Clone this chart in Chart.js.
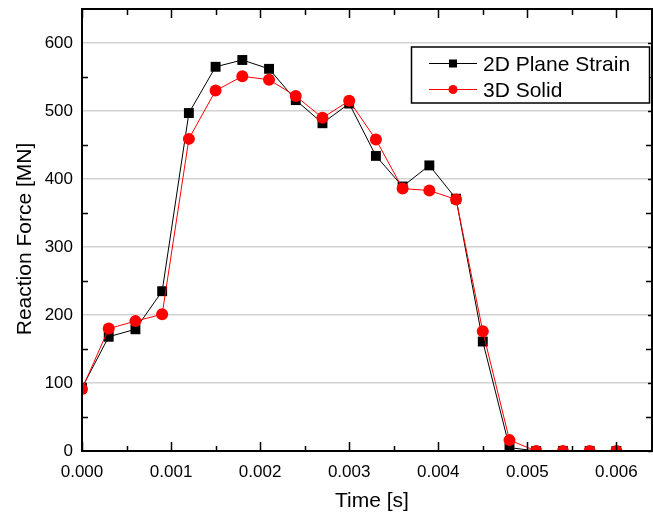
<!DOCTYPE html>
<html>
<head>
<meta charset="utf-8">
<script src="https://cdn.jsdelivr.net/npm/chart.js@4/dist/chart.umd.min.js"></script>
<style>
  html, body { margin: 0; padding: 0; background: #fff; }
  #c { display: block; }
</style>
</head>
<body>
<canvas id="c" width="653" height="515"></canvas>
<script>
// Reaction force history: 2D plane strain vs 3D solid model
const times = [0.0000, 0.0003, 0.0006, 0.0009, 0.0012, 0.0015, 0.0018, 0.0021, 0.0024, 0.0027,
               0.0030, 0.0033, 0.0036, 0.0039, 0.0042, 0.0045, 0.0048, 0.0051, 0.0054, 0.0057, 0.0060];
const plane2D = [93, 168, 179, 235, 497, 565, 575, 562, 516, 482,
                 511, 434, 389, 420, 371, 161, 5, 0, 0, 0, 0];
const solid3D = [91, 180, 191, 201, 459, 530, 551, 546, 522, 490,
                 515, 458, 386, 383, 370, 176, 16, 0, 0, 0, 0];

const seriesNames = ['2D Plane Strain', '3D Solid'];
const xTickValues = [0, 0.001, 0.002, 0.003, 0.004, 0.005, 0.006];
const yTickValues = [0, 100, 200, 300, 400, 500, 600];
const xTitle = 'Time [s]';
const yTitle = 'Reaction Force [MN]';

const FONT = 'Arial, "Liberation Sans", sans-serif';

function toPoints(xs, ys) {
  return xs.map((t, i) => ({ x: t, y: ys[i] }));
}

function noScalePadding(s) {
  s.paddingTop = 0;
  s.paddingBottom = 0;
  s.paddingLeft = 0;
  s.paddingRight = 0;
}

// Boxed frame with inward major/minor ticks on all four sides, plus axis titles
const framePlugin = {
  id: 'frame',
  afterDatasetsDraw(chart) {
    const { ctx, chartArea: a, scales: { x, y } } = chart;
    ctx.save();
    ctx.strokeStyle = '#000';
    ctx.lineWidth = 1.5;

    const xStep = xTickValues[1] - xTickValues[0];
    const yStep = yTickValues[1] - yTickValues[0];
    const xMinor = xTickValues.map(v => v + xStep / 2);
    const yMinor = yTickValues.map(v => v + yStep / 2);

    ctx.beginPath();
    xTickValues.forEach(v => {
      const px = Math.round(x.getPixelForValue(v)) + 0.5;
      ctx.moveTo(px, a.bottom); ctx.lineTo(px, a.bottom - 9);
      ctx.moveTo(px, a.top); ctx.lineTo(px, a.top + 9);
    });
    xMinor.forEach(v => {
      if (v > x.max) return;
      const px = Math.round(x.getPixelForValue(v)) + 0.5;
      ctx.moveTo(px, a.bottom); ctx.lineTo(px, a.bottom - 5);
      ctx.moveTo(px, a.top); ctx.lineTo(px, a.top + 6);
    });
    yMinor.forEach(v => {
      if (v >= y.max) return;
      const py = Math.round(y.getPixelForValue(v)) + 0.5;
      ctx.moveTo(a.left, py); ctx.lineTo(a.left + 6, py);
      ctx.moveTo(a.right, py); ctx.lineTo(a.right - 6, py);
    });
    yTickValues.forEach(v => {
      const py = Math.round(y.getPixelForValue(v)) + 0.5;
      ctx.moveTo(a.right, py); ctx.lineTo(a.right - 4, py);
    });
    ctx.stroke();

    ctx.lineWidth = 2;
    ctx.strokeRect(a.left, a.top, a.right - a.left, a.bottom - a.top);

    // axis titles
    ctx.fillStyle = '#000';
    ctx.font = '21px ' + FONT;
    ctx.textAlign = 'center';
    ctx.textBaseline = 'alphabetic';
    ctx.fillText(xTitle, (a.left + a.right) / 2 + 5, 507);

    ctx.save();
    ctx.translate(31, (a.top + a.bottom) / 2 + 9);
    ctx.rotate(-Math.PI / 2);
    ctx.fillText(yTitle, 0, 0);
    ctx.restore();

    ctx.restore();
  },
  afterDraw(chart) {
    // legend box in the upper right of the plot
    const { ctx } = chart;
    const bx = 411.5, by = 47, bw = 238, bh = 56;
    ctx.save();
    ctx.fillStyle = '#fff';
    ctx.fillRect(bx, by, bw, bh);
    ctx.strokeStyle = '#000';
    ctx.lineWidth = 1.5;
    ctx.strokeRect(bx, by, bw, bh);

    const rows = [63.5, 89.5];
    chart.data.datasets.forEach((ds, i) => {
      const cy = rows[i];
      ctx.strokeStyle = ds.borderColor;
      ctx.lineWidth = 1;
      ctx.beginPath();
      ctx.moveTo(429, cy); ctx.lineTo(477, cy);
      ctx.stroke();
      ctx.fillStyle = ds.pointBackgroundColor;
      if (ds.pointStyle === 'rect') {
        ctx.fillRect(449, cy - 4, 8, 8);
      } else {
        ctx.beginPath();
        ctx.arc(453, cy, 4.5, 0, Math.PI * 2);
        ctx.fill();
      }
      ctx.fillStyle = '#000';
      ctx.font = '21px ' + FONT;
      ctx.textAlign = 'left';
      ctx.textBaseline = 'alphabetic';
      ctx.fillText(ds.label, 483, cy + 7.3);
    });
    ctx.restore();
  }
};

new Chart(document.getElementById('c'), {
  type: 'line',
  data: {
    datasets: [
      {
        label: seriesNames[0],
        data: toPoints(times, plane2D),
        borderColor: '#000000',
        backgroundColor: '#000000',
        pointBackgroundColor: '#000000',
        pointBorderColor: '#000000',
        borderWidth: 1,
        pointStyle: 'rect',
        pointRadius: 7,
        pointBorderWidth: 0,
        tension: 0,
        clip: 1,
        order: 2
      },
      {
        label: seriesNames[1],
        data: toPoints(times, solid3D),
        borderColor: '#ff0000',
        backgroundColor: '#ff0000',
        pointBackgroundColor: '#ff0000',
        pointBorderColor: '#ff0000',
        borderWidth: 1,
        pointStyle: 'circle',
        pointRadius: 6,
        pointBorderWidth: 0,
        tension: 0,
        clip: 1,
        order: 1
      }
    ]
  },
  options: {
    responsive: false,
    animation: false,
    devicePixelRatio: 1,
    layout: { autoPadding: false, padding: { top: 9, right: 1, left: 0, bottom: 0 } },
    plugins: {
      legend: { display: false },
      tooltip: { enabled: false }
    },
    scales: {
      x: {
        type: 'linear',
        min: 0,
        max: 0.0064,
        afterBuildTicks: s => { s.ticks = xTickValues.map(v => ({ value: v })); },
        afterFit: s => { s.height = 64; noScalePadding(s); },
        grid: { display: false },
        border: { display: false },
        ticks: {
          color: '#000',
          font: { family: FONT, size: 17 },
          padding: 3,
          maxRotation: 0,
          autoSkip: false,
          callback: v => Number(v).toFixed(3)
        }
      },
      y: {
        type: 'linear',
        min: 0,
        max: 650,
        afterBuildTicks: s => { s.ticks = yTickValues.map(v => ({ value: v })); },
        afterFit: s => { s.width = 82; noScalePadding(s); },
        grid: { color: '#d2d2d2', lineWidth: 1.5, drawTicks: false },
        border: { display: false },
        ticks: {
          color: '#000',
          font: { family: FONT, size: 17 },
          padding: 9,
          callback: v => String(v)
        }
      }
    }
  },
  plugins: [framePlugin]
});
</script>
</body>
</html>
